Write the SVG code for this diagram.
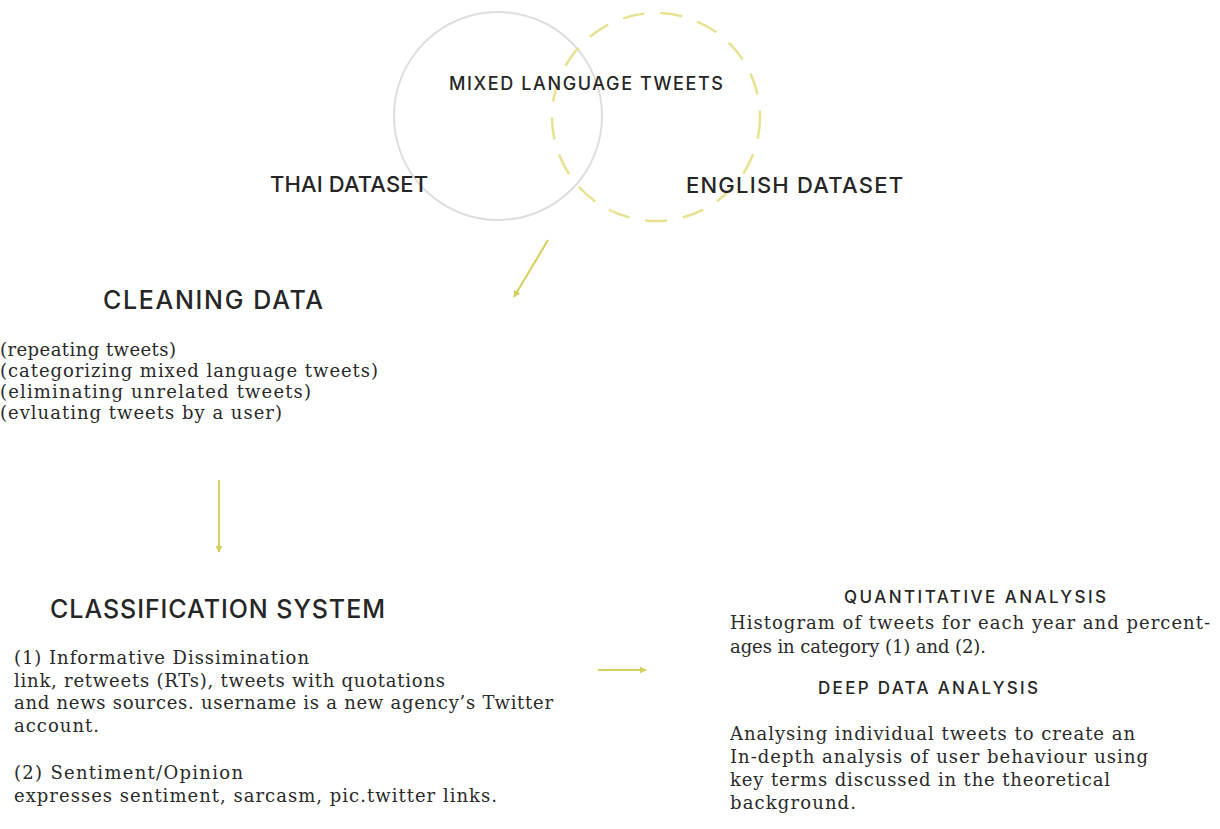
<svg xmlns="http://www.w3.org/2000/svg" width="1220" height="829" viewBox="0 0 1220 829">
<style>
.h{font-family:Inter,"Open Sans",sans-serif;font-weight:500;fill:#262626}
.b{font-family:"DejaVu Serif",serif;font-size:18px;fill:#2a2a2a}
.ar{stroke:#d6cf5e;stroke-width:2;fill:none}
</style>
<defs>
<marker id="ah" viewBox="0 0 10 10" refX="9" refY="5" markerWidth="7" markerHeight="7" orient="auto" markerUnits="userSpaceOnUse">
<path d="M0,0 L10,5 L0,10 z" fill="#d6cf5e"/>
</marker>
</defs>
<rect width="1220" height="829" fill="#fff"/>
<g id="venn">
<circle cx="498" cy="116" r="104" fill="none" stroke="#dedede" stroke-width="2"/>
<circle cx="656" cy="117" r="104" fill="none" stroke="#e8e290" stroke-width="2.5" stroke-dasharray="22 16"/>
</g>
<g id="mixed"><text class="h" x="449" y="90" font-size="18" font-weight="700" textLength="274">MIXED LANGUAGE TWEETS</text></g>
<g id="thai"><text class="h" x="270" y="192" font-size="22" textLength="158">THAI DATASET</text></g>
<g id="english"><text class="h" x="686" y="193" font-size="22" textLength="217">ENGLISH DATASET</text></g>
<g id="cleaning">
<text class="h" x="103" y="309" font-size="25" textLength="220">CLEANING DATA</text>
<text class="b" x="0" y="356" textLength="176">(repeating tweets)</text>
<text class="b" x="0" y="377" textLength="378">(categorizing mixed language tweets)</text>
<text class="b" x="0" y="398" textLength="311">(eliminating unrelated tweets)</text>
<text class="b" x="0" y="419" textLength="282">(evluating tweets by a user)</text>
</g>
<g id="classification">
<text class="h" x="50" y="618" font-size="25" textLength="335">CLASSIFICATION SYSTEM</text>
<text class="b" x="14" y="664" textLength="295">(1) Informative Dissimination</text>
<text class="b" x="14" y="687" textLength="431">link, retweets (RTs), tweets with quotations</text>
<text class="b" x="14" y="709" textLength="539">and news sources. username is a new agency’s Twitter</text>
<text class="b" x="14" y="732" textLength="85">account.</text>
<text class="b" x="14" y="779" textLength="229">(2) Sentiment/Opinion</text>
<text class="b" x="14" y="802" textLength="483">expresses sentiment, sarcasm, pic.twitter links.</text>
</g>
<g id="quantitative">
<text class="h" x="844" y="603" font-size="17" textLength="262">QUANTITATIVE ANALYSIS</text>
<text class="b" x="730" y="629" textLength="480">Histogram of tweets for each year and percent-</text>
<text class="b" x="730" y="653" textLength="256">ages in category (1) and (2).</text>
</g>
<g id="deep">
<text class="h" x="818" y="694" font-size="17" textLength="220">DEEP DATA ANALYSIS</text>
<text class="b" x="730" y="740" textLength="405">Analysing individual tweets to create an</text>
<text class="b" x="730" y="763" textLength="418">In-depth analysis of user behaviour using</text>
<text class="b" x="730" y="786" textLength="380">key terms discussed in the theoretical</text>
<text class="b" x="730" y="809" textLength="126">background.</text>
</g>
<g id="connectors">
<line class="ar" x1="598" y1="670" x2="646" y2="670" marker-end="url(#ah)"/>
<line class="ar" x1="548" y1="240" x2="514" y2="297" marker-end="url(#ah)"/>
<line class="ar" x1="219" y1="480" x2="219" y2="552" marker-end="url(#ah)"/>
</g>
</svg>
